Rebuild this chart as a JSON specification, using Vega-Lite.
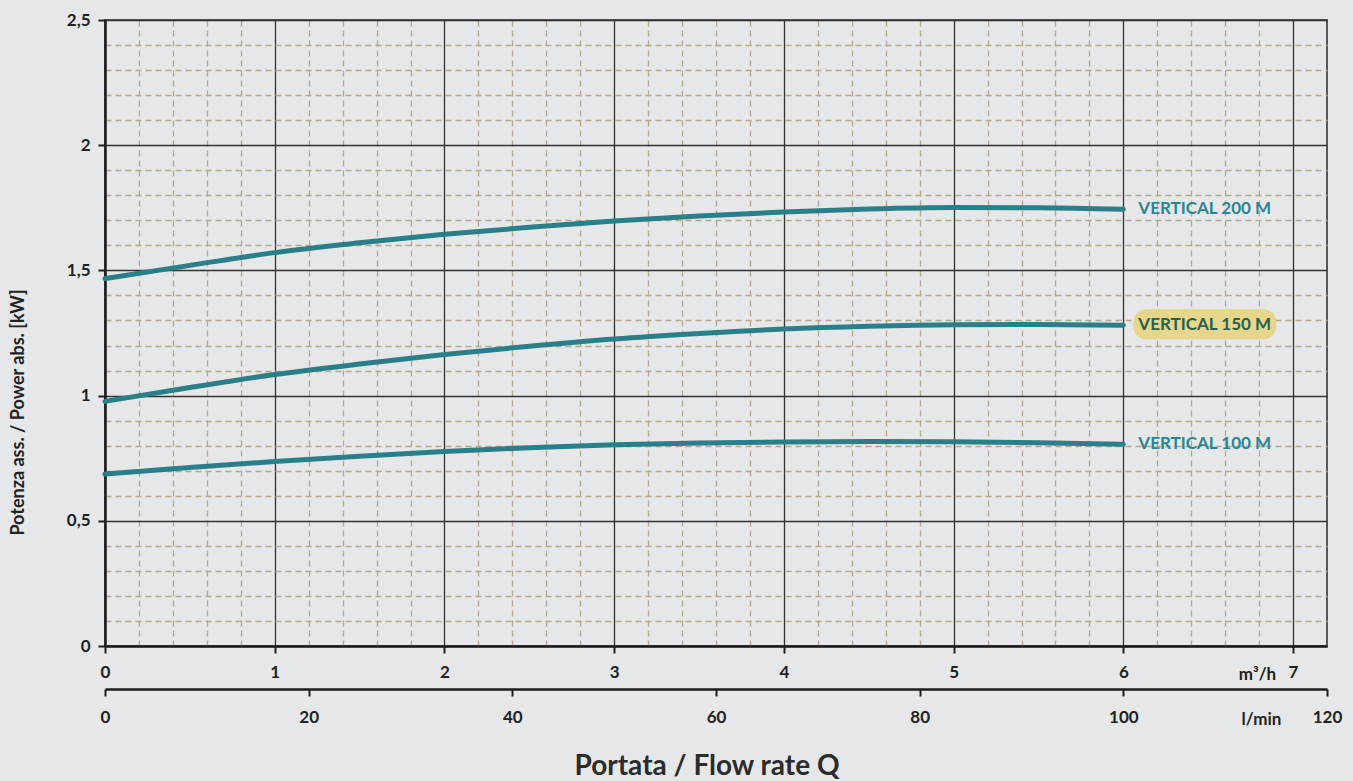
{
 "$schema": "https://vega.github.io/schema/vega-lite/v6.json",
 "autosize": "none",
 "width": 1222,
 "height": 626,
 "padding": {"left": 105, "top": 20, "right": 26, "bottom": 135},
 "background": "#e6e7e8",
 "config": {"view": {"stroke": "#2a2a2a", "strokeWidth": 1.5}, "font": "Lato"},
 "title": {"text": "Portata / Flow rate Q", "orient": "bottom", "anchor": "middle", "offset": 26, "fontSize": 28, "fontWeight": "bold", "font": "Lato", "color": "#2b2b2b", "dx": -9},
 "datasets": {
  "curves": [
   {"series": "VERTICAL 200 M", "q": 0, "lmin": 0, "p": 1.467},
   {"series": "VERTICAL 200 M", "q": 0.5, "lmin": 8.33, "p": 1.52},
   {"series": "VERTICAL 200 M", "q": 1, "lmin": 16.67, "p": 1.571},
   {"series": "VERTICAL 200 M", "q": 1.5, "lmin": 25, "p": 1.61},
   {"series": "VERTICAL 200 M", "q": 2, "lmin": 33.33, "p": 1.644},
   {"series": "VERTICAL 200 M", "q": 2.5, "lmin": 41.67, "p": 1.672},
   {"series": "VERTICAL 200 M", "q": 3, "lmin": 50, "p": 1.697},
   {"series": "VERTICAL 200 M", "q": 3.5, "lmin": 58.33, "p": 1.717},
   {"series": "VERTICAL 200 M", "q": 4, "lmin": 66.67, "p": 1.733},
   {"series": "VERTICAL 200 M", "q": 4.5, "lmin": 75, "p": 1.745},
   {"series": "VERTICAL 200 M", "q": 5, "lmin": 83.33, "p": 1.751},
   {"series": "VERTICAL 200 M", "q": 5.5, "lmin": 91.67, "p": 1.75},
   {"series": "VERTICAL 200 M", "q": 6, "lmin": 100, "p": 1.744},
   {"series": "VERTICAL 150 M", "q": 0, "lmin": 0, "p": 0.977},
   {"series": "VERTICAL 150 M", "q": 0.5, "lmin": 8.33, "p": 1.032},
   {"series": "VERTICAL 150 M", "q": 1, "lmin": 16.67, "p": 1.084},
   {"series": "VERTICAL 150 M", "q": 1.5, "lmin": 25, "p": 1.126},
   {"series": "VERTICAL 150 M", "q": 2, "lmin": 33.33, "p": 1.164},
   {"series": "VERTICAL 150 M", "q": 2.5, "lmin": 41.67, "p": 1.197},
   {"series": "VERTICAL 150 M", "q": 3, "lmin": 50, "p": 1.226},
   {"series": "VERTICAL 150 M", "q": 3.5, "lmin": 58.33, "p": 1.248},
   {"series": "VERTICAL 150 M", "q": 4, "lmin": 66.67, "p": 1.266},
   {"series": "VERTICAL 150 M", "q": 4.5, "lmin": 75, "p": 1.277},
   {"series": "VERTICAL 150 M", "q": 5, "lmin": 83.33, "p": 1.283},
   {"series": "VERTICAL 150 M", "q": 5.5, "lmin": 91.67, "p": 1.284},
   {"series": "VERTICAL 150 M", "q": 6, "lmin": 100, "p": 1.281},
   {"series": "VERTICAL 100 M", "q": 0, "lmin": 0, "p": 0.687},
   {"series": "VERTICAL 100 M", "q": 0.5, "lmin": 8.33, "p": 0.713},
   {"series": "VERTICAL 100 M", "q": 1, "lmin": 16.67, "p": 0.737},
   {"series": "VERTICAL 100 M", "q": 1.5, "lmin": 25, "p": 0.758},
   {"series": "VERTICAL 100 M", "q": 2, "lmin": 33.33, "p": 0.777},
   {"series": "VERTICAL 100 M", "q": 2.5, "lmin": 41.67, "p": 0.792},
   {"series": "VERTICAL 100 M", "q": 3, "lmin": 50, "p": 0.804},
   {"series": "VERTICAL 100 M", "q": 3.5, "lmin": 58.33, "p": 0.811},
   {"series": "VERTICAL 100 M", "q": 4, "lmin": 66.67, "p": 0.815},
   {"series": "VERTICAL 100 M", "q": 4.5, "lmin": 75, "p": 0.817},
   {"series": "VERTICAL 100 M", "q": 5, "lmin": 83.33, "p": 0.816},
   {"series": "VERTICAL 100 M", "q": 5.5, "lmin": 91.67, "p": 0.812},
   {"series": "VERTICAL 100 M", "q": 6, "lmin": 100, "p": 0.806}
  ]
 },
 "data": {"name": "curves"},
 "layer": [
  {
   "layer": [
    {
     "mark": {"type": "line", "color": "#2b7f8a", "strokeWidth": 5, "strokeCap": "round", "interpolate": "monotone"},
     "encoding": {
      "x": {"field": "q", "type": "quantitative", "scale": {"domain": [0, 7.2], "nice": false, "zero": false},
       "axis": {"orient": "bottom", "values": [0.2,0.4,0.6,0.8,1.2,1.4,1.6,1.8,2.2,2.4,2.6,2.8,3.2,3.4,3.6,3.8,4.2,4.4,4.6,4.8,5.2,5.4,5.6,5.8,6.2,6.4,6.6,6.8],
        "grid": true, "gridColor": "#b5a88e", "gridDash": [6, 4], "gridWidth": 1.3, "labels": false, "ticks": false, "domain": false, "title": null}},
      "y": {"field": "p", "type": "quantitative", "scale": {"domain": [0, 2.5], "nice": false, "zero": true},
       "axis": {"orient": "left", "values": [0.1,0.2,0.3,0.4,0.6,0.7,0.8,0.9,1.1,1.2,1.3,1.4,1.6,1.7,1.8,1.9,2.1,2.2,2.3,2.4],
        "grid": true, "gridColor": "#b5a88e", "gridDash": [6, 4], "gridWidth": 1.3, "labels": false, "ticks": false, "domain": false, "title": null}},
      "detail": {"field": "series"}
     }
    },
    {
     "transform": [{"filter": "datum.series === 'VERTICAL 150 M' && datum.q === 6"}],
     "mark": {"type": "point", "shape": "M23,-16 H140 A13,13 0 0 1 153,-3 V1 A13,13 0 0 1 140,14 H23 A13,13 0 0 1 10,1 V-3 A13,13 0 0 1 23,-16 Z", "size": 4, "filled": true, "fill": "#e5d68b", "opacity": 1, "strokeWidth": 0},
     "encoding": {
      "x": {"field": "q", "type": "quantitative", "scale": {"domain": [0, 7.2], "nice": false, "zero": false},
       "axis": {"orient": "bottom", "values": [0,1,2,3,4,5,6,7], "format": "d", "grid": true, "gridColor": "#333333", "gridWidth": 1.3,
        "domain": true, "domainColor": "#1e1e1e", "domainWidth": 2.5, "ticks": true, "tickSize": 7, "tickColor": "#1e1e1e", "tickWidth": 2,
        "labelFont": "Lato", "labelFontSize": 17, "labelFontWeight": "bold", "labelColor": "#222222", "labelPadding": 11, "labelFlush": false,
        "title": "m³/h", "titleX": 1152, "titleY": 28, "titleAlign": "center", "titleBaseline": "middle", "titleFont": "Lato", "titleFontSize": 17, "titleFontWeight": "bold", "titleColor": "#222222"}},
      "y": {"field": "p", "type": "quantitative", "scale": {"domain": [0, 2.5], "nice": false, "zero": true},
       "axis": {"orient": "left", "values": [0, 0.5, 1, 1.5, 2, 2.5], "labelExpr": "replace(format(datum.value, '~g'), '.', ',')", "grid": true, "gridColor": "#333333", "gridWidth": 1.3,
        "domain": true, "domainColor": "#1e1e1e", "domainWidth": 2.5, "ticks": true, "tickSize": 7, "tickColor": "#1e1e1e", "tickWidth": 2,
        "labelFont": "Lato", "labelFontSize": 17, "labelFontWeight": "bold", "labelColor": "#222222", "labelPadding": 8, "labelFlush": false,
        "title": "Potenza ass. / Power abs. [kW]", "titleX": -87, "titleY": 392, "titleAlign": "center", "titleBaseline": "middle", "titleFont": "Lato", "titleFontSize": 18, "titleFontWeight": "bold", "titleColor": "#222222"}}
     }
    }
   ],
   "resolve": {"axis": {"x": "independent", "y": "independent"}}
  },
  {
   "transform": [{"filter": "datum.q === 6"}],
   "mark": {"type": "text", "align": "left", "baseline": "middle", "dx": 15, "fontSize": 17, "fontWeight": "bold", "font": "Lato"},
   "encoding": {
    "x": {"field": "lmin", "type": "quantitative", "scale": {"domain": [0, 120], "nice": false, "zero": false},
     "axis": {"orient": "bottom", "offset": 43, "values": [0,20,40,60,80,100,120], "format": "d", "grid": false,
      "domain": true, "domainColor": "#1e1e1e", "domainWidth": 2.5, "ticks": true, "tickSize": 7, "tickColor": "#1e1e1e", "tickWidth": 2,
      "labelFont": "Lato", "labelFontSize": 17, "labelFontWeight": "bold", "labelColor": "#222222", "labelPadding": 13, "labelFlush": false,
      "title": "l/min", "titleX": 1156, "titleY": 30, "titleAlign": "center", "titleBaseline": "middle", "titleFont": "Lato", "titleFontSize": 17, "titleFontWeight": "bold", "titleColor": "#222222"}},
    "y": {"field": "p", "type": "quantitative", "scale": {"domain": [0, 2.5], "nice": false, "zero": true}, "axis": null},
    "text": {"field": "series"},
    "color": {"condition": {"test": "datum.series === 'VERTICAL 150 M'", "value": "#27604f"}, "value": "#2b8591"}
   }
  }
 ],
 "resolve": {"scale": {"x": "independent"}, "axis": {"x": "independent", "y": "independent"}}
}
